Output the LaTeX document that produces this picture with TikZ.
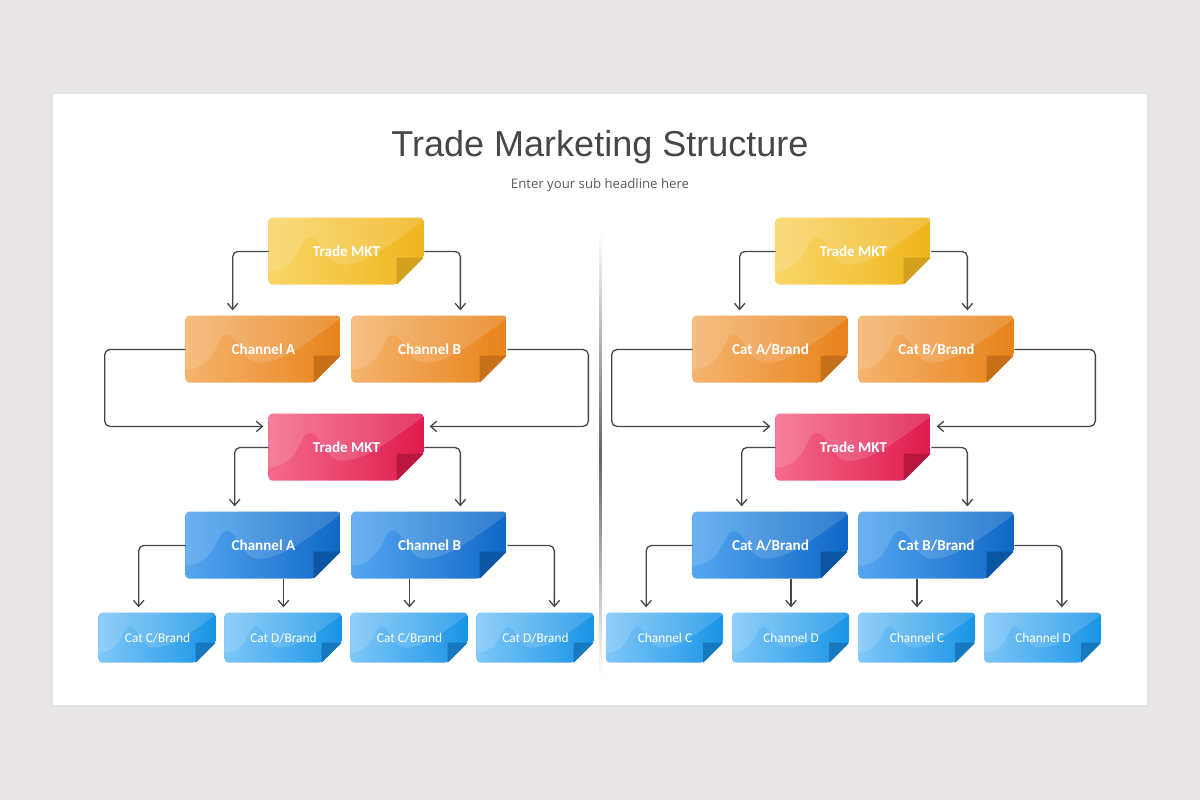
\documentclass[tikz,border=0pt]{standalone}
\usepackage{fontspec}
\setmainfont{Carlito}
\newfontfamily\titlefont{Liberation Sans}
\newfontfamily\subfont{Open Sans}
\usepackage{tikz}
\usetikzlibrary{arrows.meta, positioning, calc}
\definecolor{slidegrey}{HTML}{E8E6E7}
\definecolor{inkgrey}{HTML}{474747}
\definecolor{lightgold}{HTML}{F9D668}
\definecolor{darkgold}{HTML}{F0B51C}
\definecolor{foldgold}{HTML}{D2A01E}
\definecolor{lightamber}{HTML}{F5B46E}
\definecolor{darkamber}{HTML}{E8831A}
\definecolor{foldamber}{HTML}{C6701A}
\definecolor{lightrose}{HTML}{F56A8C}
\definecolor{darkrose}{HTML}{DF1A4E}
\definecolor{foldrose}{HTML}{B8183F}
\definecolor{lightcobalt}{HTML}{54A6F0}
\definecolor{darkcobalt}{HTML}{0F68C6}
\definecolor{foldcobalt}{HTML}{0C55A2}
\definecolor{lightsky}{HTML}{7FC7F8}
\definecolor{darksky}{HTML}{1894E6}
\definecolor{foldsky}{HTML}{1678BE}

\pgfdeclarelayer{cards}
\pgfsetlayers{cards,main}

\tikzset{
  card/.style={inner sep=0pt, text=white, align=center},
  bigcard/.style={card, minimum width=3.1cm, minimum height=1.34cm, font=\bfseries\fontsize{8.6}{10}\selectfont},
  smallcard/.style={card, minimum width=2.34cm, minimum height=1.0cm, font=\fontsize{7.6}{9}\selectfont},
  link/.style={draw=inkgrey, line width=0.75pt, rounded corners=3pt, -{Straight Barb[length=3.5pt,width=6pt]}, shorten >=3pt},
}

% sticky note behind a named node: node, colour, width, height, fold
\newcommand{\cardfill}[5]{%
  \begin{pgfonlayer}{cards}
  \begin{scope}[shift={(#1.north west)}]
    \begin{scope}
      \clip[rounded corners=2pt] (0,#4/2) -- (0,0) -- (#3,0) -- (#3,#4-#5) -- (#3-#5,#4) -- (0,#4) -- cycle;
      \shade[left color=light#2, right color=dark#2] (0,0) rectangle (#3,#4);
      \fill[white, opacity=0.14, xscale=#3/155, yscale=#4/67] (0,0) -- (155,0) -- (155,3)
        .. controls (120,28) and (95,48) .. (72,47)
        .. controls (56,46) and (52,19) .. (41,19)
        .. controls (30,19) and (32,52) .. (0,54) -- cycle;
    \end{scope}
    \fill[fold#2] (#3-#5,#4-#5) -- (#3,#4-#5) -- (#3-#5,#4) -- cycle;
  \end{scope}
  \end{pgfonlayer}}

\begin{document}
\begin{tikzpicture}[x=0.02cm, y=-0.02cm]
  \begin{pgfonlayer}{cards}
    \fill[slidegrey] (0,0) rectangle (1200,800);
    \fill[black, opacity=0.015] (50,92) rectangle (1149,708);
    \fill[white] (53,94) rectangle (1147,705);
  \end{pgfonlayer}
  \useasboundingbox (0,0) rectangle (1200,800);

  % headline
  \node[font=\titlefont\fontsize{20.5}{24}\selectfont, text=inkgrey, anchor=base] (title) at (600,157) {Trade Marketing Structure};
  \node[font=\subfont\fontsize{7.5}{9}\selectfont, text=inkgrey!90, anchor=base] (subtitle) at (600,189) {Enter your sub headline here};

  % divider
  \shade[top color=white, bottom color=white, middle color=black!60] (599,232) rectangle (601.5,678);

  % left tree
  \node[bigcard] (ltop) at (346.5,251.5) {Trade MKT};
  \node[bigcard] (lup1) at (263.5,349.5) {Channel A};
  \node[bigcard] (lup2) at (429.5,349.5) {Channel B};
  \node[bigcard] (lhub) at (346.5,447.5) {Trade MKT};
  \node[bigcard] (llow1) at (263.5,545.5) {Channel A};
  \node[bigcard] (llow2) at (429.5,545.5) {Channel B};
  \node[smallcard] (lleaf1) at (157.5,638) {Cat C/Brand};
  \node[smallcard] (lleaf2) at (283.5,638) {Cat D/Brand};
  \node[smallcard] (lleaf3) at (409.5,638) {Cat C/Brand};
  \node[smallcard] (lleaf4) at (535.5,638) {Cat D/Brand};

  % right tree
  \node[bigcard] (rtop) at (853.5,251.5) {Trade MKT};
  \node[bigcard] (rup1) at (770.5,349.5) {Cat A/Brand};
  \node[bigcard] (rup2) at (936.5,349.5) {Cat B/Brand};
  \node[bigcard] (rhub) at (853.5,447.5) {Trade MKT};
  \node[bigcard] (rlow1) at (770.5,545.5) {Cat A/Brand};
  \node[bigcard] (rlow2) at (936.5,545.5) {Cat B/Brand};
  \node[smallcard] (rleaf1) at (665,638) {Channel C};
  \node[smallcard] (rleaf2) at (791,638) {Channel D};
  \node[smallcard] (rleaf3) at (917,638) {Channel C};
  \node[smallcard] (rleaf4) at (1043,638) {Channel D};

  \foreach \s in {l,r} {
    \foreach \n/\c in {top/gold, up1/amber, up2/amber, hub/rose, low1/cobalt, low2/cobalt}
      {\cardfill{\s\n}{\c}{155}{67}{27}}
    \foreach \n in {leaf1, leaf2, leaf3, leaf4}
      {\cardfill{\s\n}{sky}{117}{50}{20}}

    \draw[link] (\s top.west) -| ($(\s up1.north west)+(47,0)$);
    \draw[link] (\s top.east) -| ($(\s up2.north east)+(-47,0)$);
    \draw[link] (\s up1.west) -- ++(-81,0) |- ([yshift=12pt]\s hub.west);
    \draw[link] (\s up2.east) -- ++(81,0) |- ([yshift=12pt]\s hub.east);
    \draw[link] (\s hub.west) -| ($(\s low1.north west)+(49,0)$);
    \draw[link] (\s hub.east) -| ($(\s low2.north east)+(-47,0)$);
    \draw[link] (\s low1.west) -| ($(\s leaf1.north west)+(40,0)$);
    \draw[link] (\s low1.south -| \s leaf2.north) -- (\s leaf2.north);
    \draw[link] (\s low2.south -| \s leaf3.north) -- (\s leaf3.north);
    \draw[link] (\s low2.east) -| ($(\s leaf4.north east)+(-40,0)$);
  }
\end{tikzpicture}
\end{document}
